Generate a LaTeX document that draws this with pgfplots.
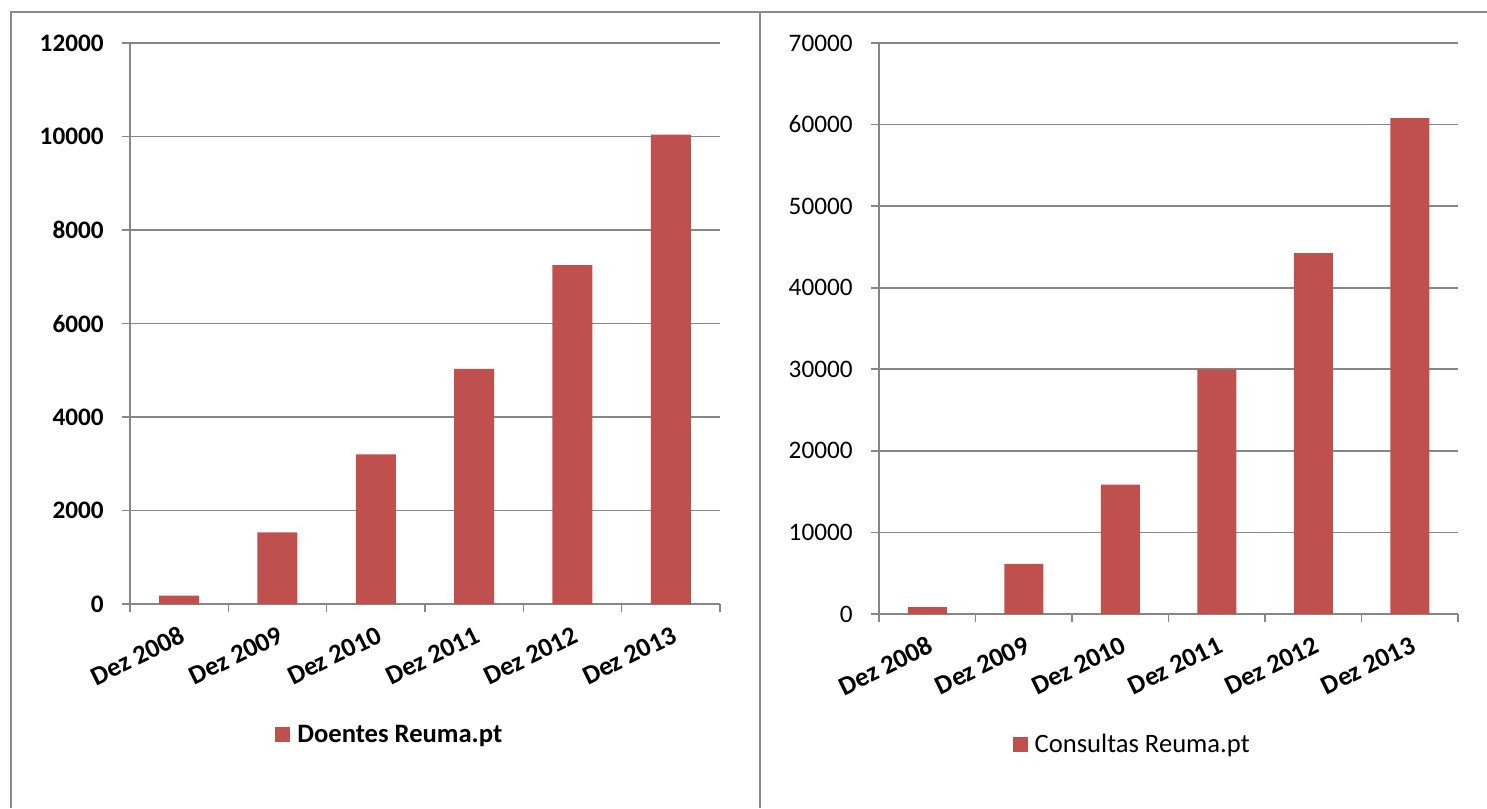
\documentclass[border=0pt]{standalone}
\usepackage{pgfplots}
\pgfplotsset{compat=1.18}
\usepackage{pgfplotstable}
\usepackage{fontspec}
\setmainfont{Carlito}

\definecolor{barred}{HTML}{C0504D}
\definecolor{axisgray}{HTML}{868686}
\definecolor{framegray}{HTML}{8A8A8A}

% Doentes registados
\pgfplotstableread{
x y
0 180
1 1530
2 3200
3 5030
4 7250
5 10040
}\doentes

% Consultas registadas
\pgfplotstableread{
x y
0 850
1 6150
2 15850
3 30000
4 44250
5 60800
}\consultas

\pgfplotsset{
  reuma/.style={
    scale only axis,
    axis lines*=left,
    axis line style={draw=axisgray, line width=0.8pt},
    ymin=0,
    xmin=-0.5, xmax=5.5,
    xtick={0,...,5},
    xticklabels={Dez 2008,Dez 2009,Dez 2010,Dez 2011,Dez 2012,Dez 2013},
    minor xtick={-0.5,0.5,...,5.5},
    major x tick style={draw=none},
    minor x tick style={draw=axisgray, line width=0.8pt},
    major y tick style={draw=axisgray, line width=0.8pt},
    tick align=outside,
    major tick length=4pt,
    minor tick length=4pt,
    ymajorgrids,
    grid style={draw=axisgray, line width=0.8pt},
    scaled y ticks=false,
    /pgf/number format/set thousands separator={},
    /pgf/number format/fixed,
    /pgf/number format/assume math mode=true,
    yticklabel style={inner sep=0pt, xshift=-9pt},
    xticklabel style={font=\fontsize{13.3}{15}\selectfont\bfseries, inner sep=0pt,
      xshift=0pt, yshift=-6.5pt, rotate=26, anchor=north east},
    legend image code/.code={\fill[barred] (0pt,-3.75pt) rectangle (7.5pt,3.75pt);},
    legend style={draw=none, fill=none, anchor=center, inner sep=0pt,
      nodes={inner sep=2pt},
      /tikz/every odd column/.append style={column sep=1.5pt}},
    legend cell align=left,
  },
}

\begin{document}
\begin{tikzpicture}
  \path[use as bounding box] (0pt,0pt) rectangle (743.5pt,404pt);
  % table frame
  \draw[framegray, line width=1pt] (5pt,397.75pt) -- (743.5pt,397.75pt);
  \draw[framegray, line width=1pt] (5.25pt,397.75pt) -- (5.25pt,0pt);
  \draw[framegray, line width=1pt] (380pt,397.75pt) -- (380pt,0pt);

  % Doentes
  \begin{axis}[reuma,
      at={(65pt,102pt)}, anchor=south west,
      width=295pt, height=280.5pt,
      ymax=12000, ytick distance=2000,
      yticklabel style={font=\fontsize{12.6}{14}\selectfont\bfseries},
      legend style={at={(0.442,-0.2335)}, font=\fontsize{13.3}{15}\selectfont\bfseries},
    ]
    \addplot[ybar, bar width=20pt, fill=barred, draw=none] table[x=x, y=y] {\doentes};
    \addlegendentry{Doentes Reuma.pt}
  \end{axis}

  % Consultas
  \begin{axis}[reuma,
      at={(439.5pt,97pt)}, anchor=south west,
      width=289.5pt, height=285.5pt,
      ymax=70000, ytick distance=10000,
      yticklabel style={font=\fontsize{12.6}{14}\selectfont},
      legend style={at={(0.439,-0.229)}, font=\fontsize{13.3}{15}\selectfont},
    ]
    \addplot[ybar, bar width=19.5pt, fill=barred, draw=none] table[x=x, y=y] {\consultas};
    \addlegendentry{Consultas Reuma.pt}
  \end{axis}
\end{tikzpicture}
\end{document}
